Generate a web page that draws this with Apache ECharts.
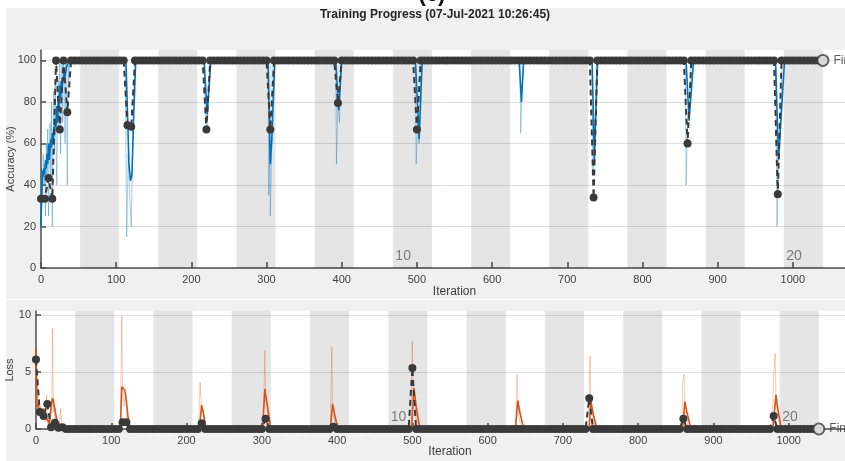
<!DOCTYPE html>
<html>
<head>
<meta charset="utf-8">
<script src="https://cdn.jsdelivr.net/npm/echarts@6/dist/echarts.min.js"></script>
<style>
html, body { margin: 0; padding: 0; background: #fff; }
#chart { width: 845px; height: 461px; }
</style>
</head>
<body>
<div id="chart"></div>
<script>
// 训练进度数据
const epochLen = 52
const epochCount = 20
const valFreq = 5
const epochLabels = ['10', '20']
const epochLabelIters = [468, 988]
const finalIter = 1040
const accTicks = [0, 20, 40, 60, 80, 100]
const lossTicks = [0, 5, 10]

// mini-batch accuracy [iteration, %]
const trainAccRaw = [
  [0, 20], [1, 48], [2, 33], [3, 55], [4, 40], [5, 50], [6, 25], [7, 60], [8, 45], [9, 67],
  [10, 25], [11, 55], [12, 70], [13, 45], [14, 80], [15, 20], [16, 60], [17, 85], [18, 55], [19, 90],
  [20, 60], [21, 40], [22, 75], [23, 90], [24, 65], [25, 100], [26, 55], [27, 85], [28, 100], [29, 70],
  [30, 100], [31, 90], [32, 60], [33, 100], [34, 80], [35, 40], [36, 100], [37, 90], [38, 100],
  [112, 100], [114, 15], [116, 55], [118, 35], [120, 20], [122, 60], [124, 90], [126, 100],
  [217, 100], [219, 70], [221, 67], [223, 85], [225, 100],
  [302, 100], [303, 35], [304, 65], [305, 25], [307, 60], [309, 85], [311, 100],
  [392, 100], [393, 50], [395, 80], [397, 70], [399, 100],
  [498, 100], [499, 50], [501, 70], [503, 60], [505, 85], [507, 100],
  [637, 100], [638, 65], [640, 85], [642, 100],
  [733, 100], [734, 45], [736, 55], [738, 70], [741, 100],
  [857, 100], [858, 40], [860, 70], [862, 80], [865, 100],
  [977, 100], [979, 20], [981, 50], [983, 65], [986, 100],
  [1040, 100]
]
// smoothed accuracy
const trainAccSmooth = [
  [0, 20], [1, 35], [2, 47], [3, 44], [4, 48], [5, 45], [6, 52], [7, 48], [8, 55], [9, 50],
  [10, 60], [11, 52], [12, 57], [13, 62], [14, 58], [15, 65], [16, 60], [17, 68], [18, 64], [19, 72],
  [20, 68], [21, 78], [22, 70], [23, 82], [24, 76], [25, 88], [26, 82], [27, 90], [28, 86], [29, 92],
  [30, 90], [31, 95], [32, 92], [34, 97], [36, 99], [38, 100],
  [113, 100], [115, 75], [117, 50], [119, 42], [121, 45], [123, 70], [126, 100],
  [217, 100], [221, 74], [226, 100],
  [302, 100], [305, 50], [307, 62], [311, 100],
  [392, 100], [396, 76], [400, 100],
  [498, 100], [503, 62], [507, 100],
  [636, 100], [639, 80], [642, 100],
  [733, 100], [736, 52], [740, 100],
  [858, 100], [862, 71], [868, 100],
  [977, 100], [981, 52], [989, 100],
  [1040, 100]
]
// validation accuracy, one value every valFreq iterations
const valAcc = [
  33.3, 33.3, 43.3, 33.3, 100, 66.7, 100, 75, 100, 100, 100, 100, 100, 100, 100, 100, 100, 100, 100, 100,
  100, 100, 100, 68.8, 68, 100, 100, 100, 100, 100, 100, 100, 100, 100, 100, 100, 100, 100, 100, 100,
  100, 100, 100, 100, 66.7, 100, 100, 100, 100, 100, 100, 100, 100, 100, 100, 100, 100, 100, 100, 100,
  100, 66.7, 100, 100, 100, 100, 100, 100, 100, 100, 100, 100, 100, 100, 100, 100, 100, 100, 100, 79.5,
  100, 100, 100, 100, 100, 100, 100, 100, 100, 100, 100, 100, 100, 100, 100, 100, 100, 100, 100, 100,
  66.7, 100, 100, 100, 100, 100, 100, 100, 100, 100, 100, 100, 100, 100, 100, 100, 100, 100, 100, 100,
  100, 100, 100, 100, 100, 100, 100, 100, 100, 100, 100, 100, 100, 100, 100, 100, 100, 100, 100, 100,
  100, 100, 100, 100, 100, 100, 100, 34, 100, 100, 100, 100, 100, 100, 100, 100, 100, 100, 100, 100,
  100, 100, 100, 100, 100, 100, 100, 100, 100, 100, 100, 100, 60, 100, 100, 100, 100, 100, 100, 100,
  100, 100, 100, 100, 100, 100, 100, 100, 100, 100, 100, 100, 100, 100, 100, 100, 35.5, 100, 100, 100,
  100, 100, 100, 100, 100, 100, 100, 100, 100
]

// mini-batch loss
const trainLossRaw = [
  [0, 7.2], [1, 2.5], [2, 4.5], [3, 1.5], [4, 2.2], [5, 1.2], [6, 2.0], [7, 1.0], [8, 1.6], [9, 1.8],
  [10, 1.2], [11, 0.9], [12, 1.5], [13, 0.6], [14, 3.0], [15, 0.8], [16, 1.2], [17, 0.4], [18, 0.8], [19, 0.5],
  [20, 1.5], [21, 2.5], [22, 8.8], [23, 1.5], [24, 2.0], [25, 1.0], [26, 0.6], [27, 1.2], [28, 0.3], [29, 0.5],
  [30, 0.2], [31, 0.4], [33, 1.8], [34, 0.2], [36, 0.3], [38, 0.1], [40, 0],
  [112, 0], [114, 9.9], [115, 3.5], [117, 2.0], [119, 3.2], [121, 1.0], [123, 0.3], [125, 0],
  [216, 0], [218, 4.1], [220, 1.5], [222, 1.8], [224, 0.3], [226, 0],
  [302, 0], [304, 6.9], [305, 2.5], [307, 2.0], [309, 0.5], [311, 0],
  [391, 0], [393, 7.2], [394, 1.5], [396, 1.5], [398, 0.3], [400, 0],
  [498, 0], [500, 7.7], [501, 2.5], [503, 3.0], [505, 1.0], [507, 0.5], [509, 0],
  [637, 0], [639, 4.8], [641, 1.5], [643, 0.6], [645, 0],
  [733, 0], [735, 3.5], [736, 6.4], [737, 2.0], [739, 1.5], [741, 0.5], [743, 0],
  [858, 0], [859, 4.0], [861, 4.8], [862, 1.5], [864, 1.2], [866, 0.3], [868, 0],
  [978, 0], [980, 4.8], [982, 6.6], [983, 2.5], [985, 1.5], [987, 0.4], [989, 0],
  [1040, 0]
]
// smoothed loss
const trainLossSmooth = [
  [0, 7.2], [1, 2.5], [2, 1.9], [3, 2.1], [4, 1.6], [5, 1.8], [6, 1.4], [7, 1.6], [8, 1.3], [9, 1.5],
  [10, 1.8], [11, 1.3], [12, 1.2], [13, 1.0], [14, 1.1], [15, 0.9], [16, 0.7], [17, 0.5], [18, 0.8], [19, 1.2],
  [20, 1.8], [21, 2.4], [22, 2.7], [23, 2.5], [24, 2.1], [25, 1.8], [26, 1.4], [27, 1.0], [28, 0.8], [29, 0.6],
  [30, 0.5], [32, 0.4], [34, 0.5], [36, 0.3], [38, 0.15], [41, 0],
  [112, 0], [114, 3.7], [116, 3.6], [118, 3.4], [120, 2.5], [122, 1.2], [125, 0],
  [217, 0], [220, 2.1], [223, 1.2], [226, 0],
  [301, 0], [304, 3.5], [307, 2.2], [312, 0],
  [391, 0], [394, 2.2], [397, 1.2], [401, 0],
  [499, 0], [502, 3.6], [505, 2.0], [510, 0],
  [637, 0], [640, 2.5], [643, 1.4], [648, 0],
  [735, 0], [737, 2.5], [740, 1.4], [745, 0],
  [859, 0], [862, 2.4], [865, 1.4], [870, 0],
  [979, 0], [983, 3.0], [986, 1.6], [990, 0],
  [1040, 0]
]
// validation loss, one value every valFreq iterations
const valLoss = [
  6.1, 1.5, 1.15, 2.2, 0.15, 0.55, 0.1, 0.15, 0, 0, 0, 0, 0, 0, 0, 0, 0, 0, 0, 0,
  0, 0, 0, 0.6, 0.6, 0, 0, 0, 0, 0, 0, 0, 0, 0, 0, 0, 0, 0, 0, 0,
  0, 0, 0, 0, 0.5, 0, 0, 0, 0, 0, 0, 0, 0, 0, 0, 0, 0, 0, 0, 0,
  0, 0.9, 0, 0, 0, 0, 0, 0, 0, 0, 0, 0, 0, 0, 0, 0, 0, 0, 0, 0.2,
  0, 0, 0, 0, 0, 0, 0, 0, 0, 0, 0, 0, 0, 0, 0, 0, 0, 0, 0, 0,
  5.35, 0, 0, 0, 0, 0, 0, 0, 0, 0, 0, 0, 0, 0, 0, 0, 0, 0, 0, 0,
  0, 0, 0, 0, 0, 0, 0, 0, 0, 0, 0, 0, 0, 0, 0, 0, 0, 0, 0, 0,
  0, 0, 0, 0, 0, 0, 0, 2.7, 0, 0, 0, 0, 0, 0, 0, 0, 0, 0, 0, 0,
  0, 0, 0, 0, 0, 0, 0, 0, 0, 0, 0, 0, 0.9, 0, 0, 0, 0, 0, 0, 0,
  0, 0, 0, 0, 0, 0, 0, 0, 0, 0, 0, 0, 0, 0, 0, 0, 1.15, 0, 0, 0,
  0, 0, 0, 0, 0, 0, 0, 0, 0
]

const FONT = '"Liberation Sans", Arial, sans-serif'
const AXIS_COLOR = '#4d4d4d'
const TEXT_COLOR = '#404040'

// 偶数 epoch 灰色背景
const bands = []
for (let e = 2; e <= epochCount; e += 2) {
  bands.push([{ xAxis: (e - 1) * epochLen }, { xAxis: e * epochLen }])
}

function xAxisCfg(gridIndex, nameGap) {
  return {
    gridIndex: gridIndex,
    type: 'value',
    min: 0,
    max: 1100,
    interval: 100,
    name: 'Iteration',
    nameLocation: 'middle',
    nameGap: nameGap,
    nameMoveOverlap: false,
    nameTextStyle: { color: TEXT_COLOR, fontSize: 12, fontFamily: FONT },
    axisLine: { show: true, onZero: false, lineStyle: { color: AXIS_COLOR, width: 1.5 } },
    axisTick: { show: true, inside: true, length: 6, lineStyle: { color: AXIS_COLOR, width: 1.5 } },
    axisLabel: { color: TEXT_COLOR, fontSize: 11, fontFamily: FONT, margin: 6, formatter: v => String(v) },
    splitLine: { show: false }
  }
}

function yAxisCfg(gridIndex, name, max, interval, ticks, nameGap) {
  return {
    gridIndex: gridIndex,
    type: 'value',
    min: 0,
    max: max,
    interval: interval,
    name: name,
    nameLocation: 'middle',
    nameGap: nameGap,
    nameMoveOverlap: false,
    nameTextStyle: { color: TEXT_COLOR, fontSize: 11, fontFamily: FONT },
    axisLine: { show: true, lineStyle: { color: AXIS_COLOR, width: 1.5 } },
    axisTick: { show: true, inside: true, length: 5, customValues: ticks, lineStyle: { color: AXIS_COLOR, width: 1.5 } },
    axisLabel: { color: TEXT_COLOR, fontSize: 11, fontFamily: FONT, margin: 5, customValues: ticks },
    splitLine: { show: true, lineStyle: { color: '#dedede', width: 1 } }
  }
}

function lineSeries(name, idx, data, color, width, opacity, z) {
  return {
    name: name,
    type: 'line',
    xAxisIndex: idx,
    yAxisIndex: idx,
    data: data,
    symbol: 'none',
    z: z,
    lineStyle: { color: color, width: width, opacity: opacity },
    clip: true
  }
}

function valSeries(name, idx, values) {
  return {
    name: name,
    type: 'line',
    xAxisIndex: idx,
    yAxisIndex: idx,
    data: values.map((v, i) => [i * valFreq, v]),
    symbol: 'circle',
    symbolSize: 8,
    showSymbol: true,
    z: 5,
    itemStyle: { color: '#3a3a3a' },
    lineStyle: { color: '#3a3a3a', width: 2, type: [6, 4] },
    clip: true
  }
}

function bandSeries(idx) {
  return {
    type: 'line',
    xAxisIndex: idx,
    yAxisIndex: idx,
    data: [],
    symbol: 'none',
    z: 1,
    markArea: {
      silent: true,
      itemStyle: { color: 'rgba(0,0,0,0.1)' },
      data: bands
    }
  }
}

function epochLabelSeries(idx, y) {
  return {
    type: 'scatter',
    xAxisIndex: idx,
    yAxisIndex: idx,
    data: epochLabelIters.map((it, i) => ({ value: [it, y], name: epochLabels[i] })),
    symbolSize: 1,
    z: 6,
    itemStyle: { color: 'transparent' },
    label: {
      show: true,
      formatter: p => p.name,
      position: [3, -18],
      color: '#606060',
      fontSize: 14,
      fontFamily: FONT
    }
  }
}

function finalSeries(idx, y) {
  return {
    type: 'scatter',
    xAxisIndex: idx,
    yAxisIndex: idx,
    data: [[finalIter, y]],
    symbol: 'emptyCircle',
    symbolSize: 11,
    z: 7,
    clip: false,
    itemStyle: { color: '#3a3a3a', borderWidth: 1.3 },
    label: {
      show: true,
      formatter: 'Final',
      position: 'right',
      distance: 4,
      color: '#333',
      fontSize: 12,
      fontFamily: FONT
    }
  }
}

const myChart = echarts.init(document.getElementById('chart'))
const option = {
  animation: false,
  backgroundColor: '#f0f0f0',
  graphic: [
    { type: 'rect', shape: { x: 0, y: 0, width: 845, height: 8 }, style: { fill: '#fff' } },
    { type: 'rect', shape: { x: 0, y: 0, width: 6, height: 461 }, style: { fill: '#fff' } },
    { type: 'rect', shape: { x: 0, y: 299, width: 845, height: 1 }, style: { fill: '#fff' } },
    {
      type: 'text', x: 432, y: -16,
      style: { text: '(c)', fontSize: 22, fontWeight: 'bold', fill: '#111', textAlign: 'center', fontFamily: FONT }
    },
    {
      type: 'text', x: 435, y: 9,
      style: { text: 'Training Progress (07-Jul-2021 10:26:45)', fontSize: 12, fontWeight: 'bold', fill: '#262626', textAlign: 'center', fontFamily: FONT }
    }
  ],
  grid: [
    { left: 41, top: 50, width: 827, height: 218, show: true, backgroundColor: '#fff', borderWidth: 0, outerBoundsMode: 'none' },
    { left: 36, top: 311, width: 828, height: 118, show: true, backgroundColor: '#fff', borderWidth: 0, outerBoundsMode: 'none' }
  ],
  xAxis: [xAxisCfg(0, 18), xAxisCfg(1, 17)],
  yAxis: [
    yAxisCfg(0, 'Accuracy (%)', 105, 20, accTicks, 25),
    yAxisCfg(1, 'Loss', 10.35, 5, lossTicks, 21)
  ],
  series: [
    bandSeries(0),
    lineSeries('Training (raw)', 0, trainAccRaw, '#0072bd', 1, 0.35, 2),
    lineSeries('Training (smoothed)', 0, trainAccSmooth, '#0072bd', 1.6, 1, 3),
    valSeries('Validation', 0, valAcc),
    epochLabelSeries(0, 0),
    finalSeries(0, 100),
    bandSeries(1),
    lineSeries('Training loss (raw)', 1, trainLossRaw, '#d95319', 1, 0.3, 2),
    lineSeries('Training loss (smoothed)', 1, trainLossSmooth, '#d95319', 1.6, 1, 3),
    valSeries('Validation loss', 1, valLoss),
    epochLabelSeries(1, 0),
    finalSeries(1, 0)
  ]
}
myChart.setOption(option)
</script>
</body>
</html>
